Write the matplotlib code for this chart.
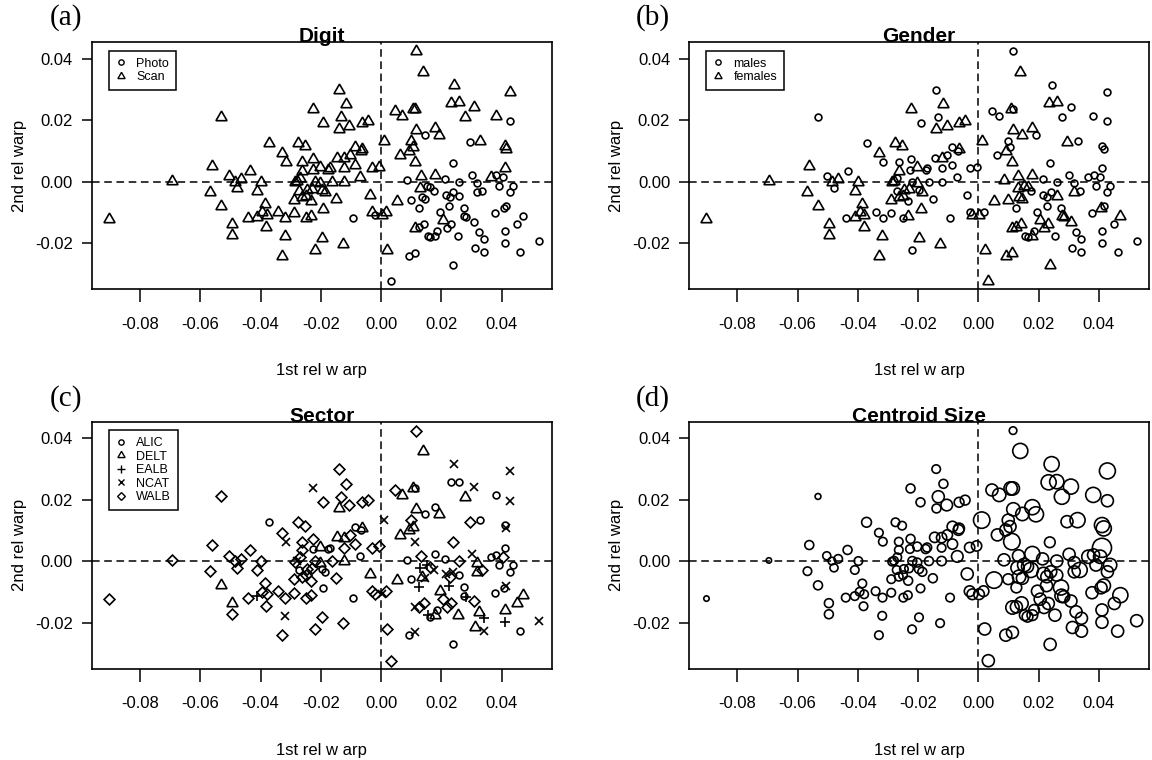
import matplotlib
matplotlib.use("Agg")
import matplotlib.pyplot as plt
from matplotlib.lines import Line2D
import numpy as np

plt.rcParams['font.family'] = ['Liberation Sans', 'DejaVu Sans']
plt.rcParams['axes.unicode_minus'] = False

# First and second relative warp scores of each specimen
rw1 = [
    -0.0532, -0.0371, -0.0561, -0.0434, -0.0503, -0.0695, -0.0486, -0.0465, -0.0479, -0.0398,
    -0.0567, -0.0410, -0.0532, -0.0385, -0.0394, -0.0379, -0.0410, -0.0440, -0.0381, -0.0496,
    -0.0496, -0.0902,
    0.0115, 0.0139, 0.0243, 0.0428, -0.0140, -0.0225, -0.0116, -0.0133, -0.0192, -0.0139,
    -0.0105, -0.0064, -0.0044, 0.0045, 0.0069, 0.0107, 0.0114, 0.0233, 0.0260, 0.0307,
    0.0277, 0.0381, 0.0428, 0.0116, 0.0146, 0.0179,
    0.0191, 0.0011, 0.0099, 0.0105, 0.0091, 0.0063, 0.0111, 0.0294, 0.0329, 0.0410,
    0.0416, 0.0237, -0.0275, -0.0253, -0.0330, -0.0317, -0.0264, -0.0225, -0.0203, -0.0227,
    -0.0175, -0.0170, -0.0145, -0.0122, -0.0103, -0.0086,
    -0.0064, -0.0066, -0.0122, -0.0086, -0.0029, -0.0006, -0.0070, -0.0264, -0.0269, -0.0286,
    -0.0280, -0.0219, -0.0203, -0.0164, -0.0122, -0.0247, -0.0271, -0.0230, -0.0197, -0.0186,
    -0.0250, -0.0264, -0.0289, -0.0233, -0.0151, -0.0037,
    -0.0341, -0.0318, -0.0289, -0.0249, -0.0234, -0.0192, -0.0094, -0.0029, -0.0020, 0.0002,
    0.0017, -0.0319, -0.0197, -0.0127, -0.0220, -0.0330, 0.0021, 0.0091, 0.0113, 0.0238,
    0.0033, 0.0085, 0.0133, 0.0179, 0.0213, 0.0260,
    0.0301, 0.0318, 0.0365, 0.0382, 0.0404, 0.0410, 0.0390, 0.0437, 0.0428, 0.0318,
    0.0336, 0.0130, 0.0152, 0.0163, 0.0174, 0.0135, 0.0146, 0.0099, 0.0052, 0.0126,
    0.0216, 0.0227, 0.0240, 0.0260, 0.0196, 0.0226,
    0.0274, 0.0276, 0.0283, 0.0307, 0.0205, 0.0232, 0.0218, 0.0143, 0.0113, 0.0126,
    0.0185, 0.0179, 0.0154, 0.0163, 0.0254, 0.0324, 0.0342, 0.0312, 0.0342, 0.0407,
    0.0416, 0.0377, 0.0471, 0.0451, 0.0410, 0.0410,
    0.0462, 0.0525,
]

rw2 = [
    0.0210, 0.0126, 0.0052, 0.0036, 0.0017, 0.0002, 0.0000, 0.0007, -0.0022, 0.0000,
    -0.0033, -0.0029, -0.0079, -0.0073, -0.0100, -0.0108, -0.0114, -0.0119, -0.0147, -0.0137,
    -0.0173, -0.0122,
    0.0424, 0.0358, 0.0315, 0.0293, 0.0299, 0.0236, 0.0251, 0.0209, 0.0191, 0.0171,
    0.0182, 0.0191, 0.0198, 0.0231, 0.0215, 0.0236, 0.0236, 0.0256, 0.0258, 0.0242,
    0.0209, 0.0215, 0.0196, 0.0168, 0.0153, 0.0175,
    0.0152, 0.0133, 0.0133, 0.0112, 0.0101, 0.0085, 0.0063, 0.0128, 0.0133, 0.0117,
    0.0106, 0.0061, 0.0126, 0.0115, 0.0092, 0.0063, 0.0063, 0.0072, 0.0047, 0.0039,
    0.0039, 0.0044, 0.0077, 0.0076, 0.0085, 0.0112,
    0.0106, 0.0101, 0.0043, 0.0055, 0.0044, 0.0049, 0.0015, 0.0036, 0.0012, -0.0002,
    0.0001, 0.0000, -0.0005, 0.0000, 0.0000, -0.0026, -0.0029, -0.0024, -0.0026, -0.0035,
    -0.0046, -0.0051, -0.0059, -0.0064, -0.0056, -0.0042,
    -0.0098, -0.0119, -0.0103, -0.0119, -0.0111, -0.0089, -0.0119, -0.0098, -0.0108, -0.0108,
    -0.0098, -0.0178, -0.0183, -0.0202, -0.0222, -0.0241, -0.0221, -0.0241, -0.0232, -0.0271,
    -0.0324, 0.0004, 0.0017, 0.0023, 0.0007, 0.0000,
    0.0022, -0.0005, 0.0014, 0.0020, 0.0014, 0.0043, -0.0013, -0.0013, -0.0035, -0.0035,
    -0.0029, -0.0022, -0.0013, -0.0018, -0.0029, -0.0051, -0.0056, -0.0059, -0.0062, -0.0086,
    -0.0042, -0.0051, -0.0035, -0.0046, -0.0098, -0.0080,
    -0.0086, -0.0113, -0.0116, -0.0130, -0.0124, -0.0138, -0.0151, -0.0138, -0.0151, -0.0149,
    -0.0159, -0.0176, -0.0176, -0.0181, -0.0176, -0.0165, -0.0186, -0.0216, -0.0228, -0.0087,
    -0.0080, -0.0103, -0.0111, -0.0138, -0.0159, -0.0199,
    -0.0228, -0.0194,
]

# Digitising method: P = photo, S = scan
digit = list(
    "SSSSSSSSSSSSSSSSSSSSSS"
    "SSSSSSSSSSSSSSSSSSSSSSPSPS"
    "SSSSSSSPSSSPSSSSSSSSSSSSSS"
    "SSSSSSSSSSSSSSSSSSSSSSSSSS"
    "SSSSSSPSPSSSSSSSSPPPPPSSPP"
    "PPSPPSPPPPPSPPPPPPSPPPPPPP"
    "PPPPSPPPSPPPPPPPPPPPPPPPPP"
    "PP"
)

# Sex: M = male, F = female
gender = list(
    "MMFMMFFFMFFFFFFFFMFFFF"
    "MFMMMFFMMFFFFMMFMFFMMMMFFF"
    "MFMMFMFFMMMMFFFMMMFMMMMFMM"
    "FMMMMMMFMFFMFMMFMFMFFFFMMM"
    "MMMMFFMMFFMFFFMFFFFFFFFFMM"
    "MMMMMMMMMFMFFFMFFFFMMMMFMM"
    "MFFFFFFFFFMFMMMMMMMFMMFMMM"
    "MM"
)

# Sampling sector: A = ALIC, D = DELT, E = EALB, N = NCAT, W = WALB
sector = list(
    "WAWWWWWWWWWWDWWWEWWDWW"
    "WDNNWNWWWDWWWWDDAAANDANDAA"
    "DNWDDDNWAANWWWWNWWDAAADDWA"
    "DAWWWWAWWWNWDWDWAWAAWWWWWD"
    "WWWWWAAWWNWNWWWWWANAWAWAAW"
    "NDAAWAAAADWEEWNDNADENWNADE"
    "AAEWWWWWNWADEADDEDNANADDDE"
    "AN"
)

# Relative centroid size (symbol expansion)
csize = [
    0.8, 1.25, 1.15, 1.15, 1.05, 0.75, 1.0, 1.1, 1.05, 1.1,
    1.1, 1.1, 1.15, 1.1, 1.1, 1.1, 1.1, 1.1, 1.1, 1.15,
    1.15, 0.75,
    1.0, 1.85, 1.85, 1.95, 1.1, 1.15, 1.15, 1.5, 1.15, 1.15,
    1.45, 1.25, 1.25, 1.5, 1.65, 1.65, 1.65, 1.85, 1.75, 1.85,
    1.85, 1.85, 1.5, 1.65, 1.65, 1.85,
    1.85, 2.0, 1.5, 1.5, 1.5, 1.5, 2.0, 1.5, 1.85, 1.85,
    1.85, 1.35, 1.1, 1.1, 1.1, 1.1, 1.1, 1.15, 1.15, 1.1,
    1.15, 1.15, 1.3, 1.3, 1.3, 1.35,
    1.35, 1.35, 1.1, 1.3, 1.3, 1.3, 1.45, 1.1, 1.1, 1.1,
    1.1, 1.15, 1.15, 1.15, 1.2, 1.1, 1.1, 1.1, 1.15, 1.15,
    1.1, 1.1, 1.1, 1.15, 1.15, 1.5,
    1.1, 1.1, 1.1, 1.1, 1.1, 1.1, 1.1, 1.35, 1.35, 1.35,
    1.35, 1.1, 1.1, 1.1, 1.1, 1.1, 1.5, 1.5, 1.5, 1.5,
    1.5, 1.5, 1.5, 1.85, 1.5, 1.5,
    1.5, 1.5, 1.65, 1.5, 1.65, 2.3, 1.5, 1.65, 1.5, 1.5,
    1.85, 1.65, 1.65, 1.5, 1.85, 1.65, 1.5, 1.35, 2.0, 1.35,
    1.65, 1.5, 1.5, 1.5, 1.5, 1.5,
    1.85, 1.65, 1.5, 1.5, 1.5, 1.5, 1.5, 1.65, 1.65, 1.5,
    1.35, 1.35, 1.35, 1.35, 1.5, 1.5, 1.5, 1.5, 1.5, 1.5,
    1.65, 1.5, 1.85, 1.5, 1.5, 1.5,
    1.5, 1.5,
]

assert len(rw1) == len(rw2) == len(digit) == len(gender) == len(sector) == len(csize)

x_ticks = [-0.08, -0.06, -0.04, -0.02, 0.00, 0.02, 0.04]
x_ticklabels = ['-0.08', '-0.06', '-0.04', '-0.02', '0.00', '0.02', '0.04']
y_ticks = [-0.02, 0.00, 0.02, 0.04]
y_ticklabels = ['-0.02', '0.00', '0.02', '0.04']

rw1 = np.array(rw1)
rw2 = np.array(rw2)
digit = np.array(digit)
gender = np.array(gender)
sector = np.array(sector)
csize = np.array(csize)

TRI = (3, 0, 0)
DIA = (4, 0, 0)
EW = 1.2

fig = plt.figure(figsize=(11.52, 7.6), dpi=100)
W, H = 1152.0, 760.0


def make_axes(left_px, top_px):
    w_px, h_px = 460.0, 247.0
    return fig.add_axes([left_px / W, (H - top_px - h_px) / H, w_px / W, h_px / H])


def frame(ax, title):
    ax.set_xlim(-0.096, 0.0566)
    ax.set_ylim(-0.035, 0.0453)
    ax.set_xticks(x_ticks)
    ax.set_xticklabels(x_ticklabels)
    ax.set_yticks(y_ticks)
    ax.set_yticklabels(y_ticklabels)
    ax.tick_params(axis='x', length=9, width=1.1, pad=11, labelsize=12)
    ax.tick_params(axis='y', length=7.5, width=1.1, pad=6, labelsize=12)
    for sp in ax.spines.values():
        sp.set_linewidth(1.2)
    ax.axhline(0, color='k', lw=1.1, dashes=(5, 3), zorder=1)
    ax.axvline(0, color='k', lw=1.1, dashes=(5, 3), zorder=1)
    ax.text(0.5, 1.0, title, transform=ax.transAxes, ha='center', va='baseline',
            fontsize=15, fontweight='bold')
    ax.text(0.5, -0.33, '1st rel w arp', transform=ax.transAxes, ha='center',
            va='center', fontsize=12)
    ax.text(-0.157, 0.5, '2nd rel warp', transform=ax.transAxes, ha='center',
            va='center', rotation=90, fontsize=12)


def pts(ax, sel, marker, ms):
    ax.plot(rw1[sel], rw2[sel], ls='none', marker=marker, ms=ms, mfc='none',
            mec='k', mew=EW, zorder=3)


def legend(ax, entries):
    handles = [Line2D([], [], ls='none', marker=m, ms=s, mfc='none', mec='k', mew=1.0)
               for m, s, _ in entries]
    labels = [lab for _, _, lab in entries]
    leg = ax.legend(handles, labels, loc='upper left', bbox_to_anchor=(0.037, 0.965),
                    borderaxespad=0, frameon=True, fancybox=False, framealpha=1,
                    edgecolor='k', fontsize=9, handlelength=0.8, handletextpad=0.85,
                    borderpad=0.55, labelspacing=0.12)
    leg.get_frame().set_linewidth(1.1)


# (a) Digit
axa = make_axes(91.7, 42.3)
frame(axa, 'Digit')
pts(axa, digit == 'P', 'o', 4.9)
pts(axa, digit == 'S', TRI, 9.2)
legend(axa, [('o', 3.8, 'Photo'), (TRI, 6.0, 'Scan')])

# (b) Gender
axb = make_axes(689.0, 42.3)
frame(axb, 'Gender')
pts(axb, gender == 'M', 'o', 4.9)
pts(axb, gender == 'F', TRI, 9.2)
legend(axb, [('o', 3.8, 'males'), (TRI, 6.0, 'females')])

# (c) Sector
axc = make_axes(91.7, 421.7)
frame(axc, 'Sector')
sector_marks = [('A', 'o', 4.9, 3.8, 'ALIC'), ('D', TRI, 9.2, 6.0, 'DELT'),
                ('E', '+', 7.6, 5.6, 'EALB'), ('N', 'x', 6.4, 4.2, 'NCAT'),
                ('W', DIA, 7.8, 5.6, 'WALB')]
for code, m, ms, _, _ in sector_marks:
    pts(axc, sector == code, m, ms)
legend(axc, [(m, ls, lab) for _, m, _, ls, lab in sector_marks])

# (d) Centroid size
axd = make_axes(689.0, 421.7)
frame(axd, 'Centroid Size')
diam_pt = (8.8 * csize - 1.2) * 0.72
axd.scatter(rw1, rw2, s=diam_pt ** 2, facecolors='none', edgecolors='k',
            linewidths=EW, zorder=3)

# Panel letters
for lab, xp, yp in [('(a)', 66, 18), ('(b)', 653, 18), ('(c)', 66, 399), ('(d)', 653, 399)]:
    fig.text(xp / W, 1 - yp / H, lab, ha='center', va='center', fontsize=21,
             family=['Liberation Serif', 'DejaVu Serif'])

fig.savefig('out.png', dpi=100)
